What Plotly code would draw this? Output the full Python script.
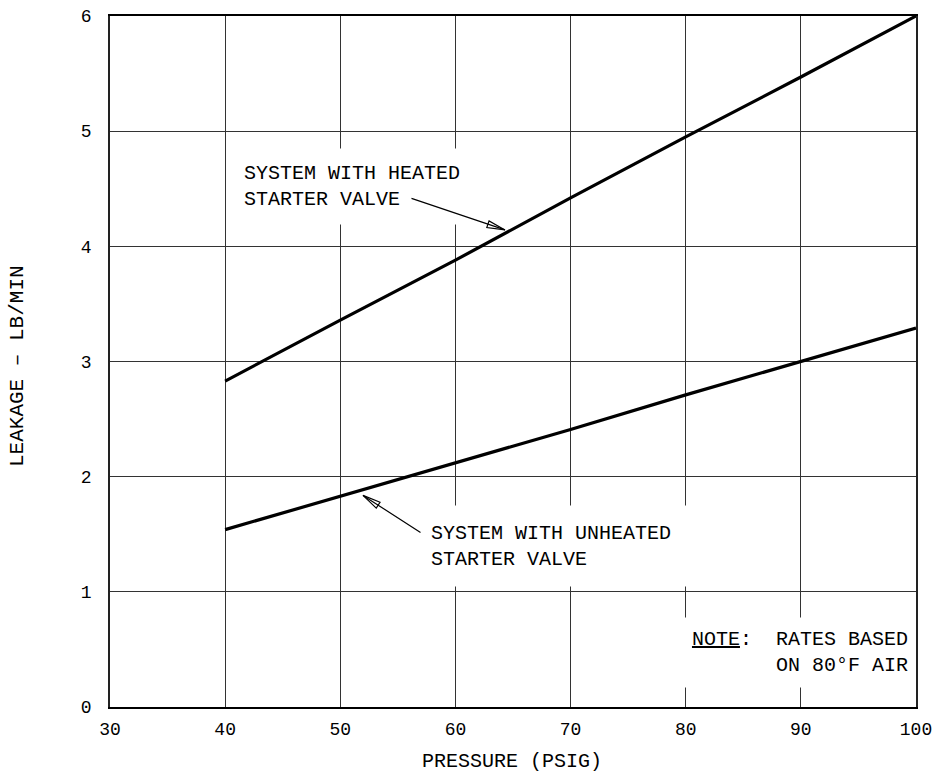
import numpy as np
import plotly.graph_objects as go

# ---- data ----
pressure = [40, 50, 60, 70, 80, 90, 100]
heated = [2.83, 3.36, 3.88, 4.42, 4.95, 5.47, 6.00]
unheated = [1.54, 1.83, 2.12, 2.41, 2.71, 3.00, 3.29]
x_ticks = [30, 40, 50, 60, 70, 80, 90, 100]
y_ticks = [0, 1, 2, 3, 4, 5, 6]

FONT = "Liberation Mono"
W, H = 936, 774
# plot area in window pixels: left 110, right 916, top 16, bottom 707
PL, PR, PT, PB = 110, 916, 16, 707
ML, MR, MT, MB = PL, W - PR, PT, H - PB
X0, X1 = 30, 100
Y0, Y1 = 0, 6
PW, PH = PR - PL, PB - PT


def px2x(px):
    return X0 + (px - PL) / PW * (X1 - X0)


def py2y(py):
    return Y0 + (PB - py) / PH * (Y1 - Y0)


fig = go.Figure()
fig.add_trace(go.Scatter(x=pressure, y=heated, mode="lines",
                         line=dict(color="black", width=3.2), hoverinfo="skip"))
fig.add_trace(go.Scatter(x=pressure, y=unheated, mode="lines",
                         line=dict(color="black", width=3.2), hoverinfo="skip"))

annotations = []
shapes = []

# text boxes (white background hides the grid behind them)
annotations.append(dict(
    text="SYSTEM WITH HEATED<br>STARTER VALVE", xref="x", yref="y",
    x=px2x(242), y=py2y(186), xanchor="left", yanchor="middle",
    align="left", showarrow=False, bgcolor="white", height=73, width=232,
    font=dict(family=FONT, size=20, color="black")))
annotations.append(dict(
    text="SYSTEM WITH UNHEATED<br>STARTER VALVE", xref="x", yref="y",
    x=px2x(429), y=py2y(546), xanchor="left", yanchor="middle",
    align="left", showarrow=False, bgcolor="white", height=78, width=262,
    font=dict(family=FONT, size=20, color="black")))
annotations.append(dict(
    text="<u>NOTE</u>:\u00a0\u00a0RATES BASED<br>ON 80°F AIR", xref="x", yref="y",
    x=px2x(910), y=py2y(652), xanchor="right", yanchor="middle",
    align="right", showarrow=False, bgcolor="white", height=67, width=226,
    font=dict(family=FONT, size=20, color="black")))


def add_arrow(tip_x, series, ax, ay, tip_dy=0.0):
    tip_y = float(np.interp(tip_x, pressure, series)) + tip_dy
    annotations.append(dict(text="", xref="x", yref="y", x=tip_x, y=tip_y,
                            ax=ax, ay=ay, showarrow=True, arrowhead=0,
                            arrowwidth=1.2, arrowcolor="black", standoff=0))
    # hollow arrowhead
    ln = (ax ** 2 + ay ** 2) ** 0.5
    dx, dy = -ax / ln, -ay / ln  # screen direction tail->tip
    L, w = 18, 3.5
    bx, by = -L * dx, -L * dy
    nx, ny = -dy, dx
    c1 = (bx + w * nx, by + w * ny)
    c2 = (bx - w * nx, by - w * ny)
    path = "M 0,0 L {:.2f},{:.2f} L {:.2f},{:.2f} Z".format(c1[0], -c1[1], c2[0], -c2[1])
    shapes.append(dict(type="path", path=path, xref="x", yref="y",
                       xsizemode="pixel", ysizemode="pixel",
                       xanchor=tip_x, yanchor=tip_y,
                       line=dict(color="black", width=1.2), fillcolor="white",
                       layer="above"))


add_arrow(px2x(505), heated, -95, -32, tip_dy=0.03)
add_arrow(px2x(363), unheated, 59, 38, tip_dy=-0.05)

# axis titles
annotations.append(dict(text="PRESSURE (PSIG)", xref="paper", yref="paper",
                        x=(512 - PL) / PW, y=-(761 - PB) / PH,
                        xanchor="center", yanchor="middle", showarrow=False,
                        font=dict(family=FONT, size=20, color="black")))
annotations.append(dict(text="LEAKAGE \u2013 LB/MIN", xref="paper", yref="paper",
                        x=(17 - PL) / PW, y=(PB - 366) / PH,
                        xanchor="center", yanchor="middle", textangle=-90,
                        showarrow=False,
                        font=dict(family=FONT, size=21, color="black")))

fig.update_layout(
    width=W, height=H,
    margin=dict(l=ML, r=MR, t=MT, b=MB, autoexpand=False),
    paper_bgcolor="white", plot_bgcolor="white",
    showlegend=False,
    font=dict(family=FONT, size=18, color="black"),
    annotations=annotations, shapes=shapes,
    xaxis=dict(range=[X0, X1], tickvals=x_ticks, ticktext=[str(v) for v in x_ticks],
               showgrid=True, gridcolor="#333", gridwidth=1,
               showline=True, linecolor="black", linewidth=1.5, mirror=True,
               zeroline=False, ticks="", ticklabelstandoff=5, automargin=False,
               ticklabeloverflow="allow",
               tickfont=dict(family=FONT, size=18, color="black")),
    yaxis=dict(range=[Y0, Y1], tickvals=y_ticks, ticktext=[str(v) for v in y_ticks],
               showgrid=True, gridcolor="#333", gridwidth=1,
               showline=True, linecolor="#222", linewidth=1.5, mirror=True,
               zeroline=False, ticks="", ticklabelstandoff=13, automargin=False,
               ticklabeloverflow="allow",
               tickfont=dict(family=FONT, size=18, color="black")),
)

fig.write_html(
    "out.html",
    config={"displayModeBar": False},
    post_script="document.body.style.margin='0';"
                "document.documentElement.style.overflow='hidden';"
                "document.body.style.overflow='hidden';",
)
